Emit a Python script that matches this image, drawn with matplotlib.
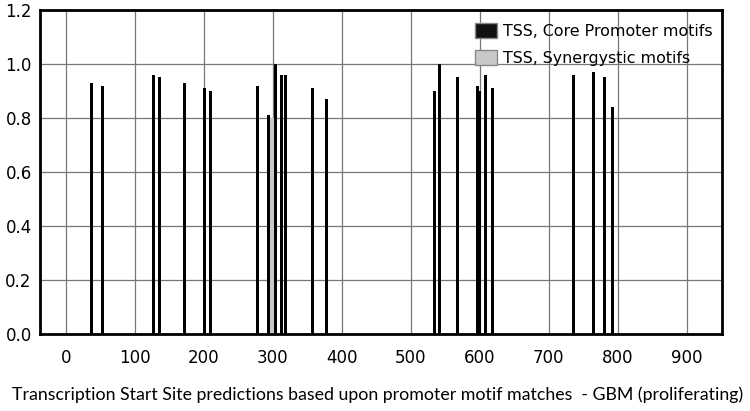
from matplotlib import pyplot
from matplotlib.patches import Patch

# TSS positions and scores
core_pos = [
    37, 52, 127, 135, 172, 200, 209, 277, 294, 304, 313, 318, 358, 378,
    534, 542, 567, 596, 600, 608, 618, 736, 765, 781, 793,
]
core_score = [
    0.93, 0.92, 0.96, 0.95, 0.93, 0.91, 0.90, 0.92, 0.81, 1.00, 0.96, 0.96, 0.91, 0.87,
    0.90, 1.00, 0.95, 0.92, 0.90, 0.96, 0.91, 0.96, 0.97, 0.95, 0.84,
]
syn_pos = [299]
syn_score = [0.80]

x_ticks = [0, 100, 200, 300, 400, 500, 600, 700, 800, 900]
y_ticks = [0.0, 0.2, 0.4, 0.6, 0.8, 1.0, 1.2]

fig = pyplot.figure(
    figsize=(
        7.5, 4.11
    ),
    dpi=100,
)
ax = fig.add_axes([0.0533, 0.187, 0.91, 0.789])
ax.bar(
    syn_pos,
    syn_score,
    width=6,
    color="#c8c8c8",
    zorder=2,
)
ax.bar(
    core_pos,
    core_score,
    width=4.4,
    color="#000000",
    zorder=3,
)
ax.set_xlim(
    -38,
    952,
)
ax.set_ylim(
    0,
    1.2,
)
ax.set_xticks(x_ticks)
ax.set_yticks(y_ticks)
ax.set_yticklabels([f"{t:.1f}" for t in y_ticks])
ax.grid(
    True,
    color="#777777",
    linewidth=0.9,
    zorder=1,
)
ax.set_axisbelow(True)
ax.tick_params(
    length=0,
    labelsize=12,
    pad=6,
)
ax.tick_params(axis="x", pad=11)
for spine in ax.spines.values():
    spine.set_linewidth(2)
ax.set_xlabel(
    "Transcription Start Site predictions based upon promoter motif matches  - GBM (proliferating)",
    fontsize=12.75,
    family="Lato",
    labelpad=14,
)
ax.xaxis.label.set_x(0.494)
handles = [
    Patch(facecolor="#111111", edgecolor="#888888", label="TSS, Core Promoter motifs"),
    Patch(facecolor="#c8c8c8", edgecolor="#888888", label="TSS, Synergystic motifs"),
]
ax.legend(
    handles=handles,
    loc="upper left",
    bbox_to_anchor=(0.628, 0.98),
    frameon=False,
    fontsize=11.4,
    handlelength=1.4,
    handleheight=1.1,
    handletextpad=0.4,
    labelspacing=0.7,
    borderaxespad=0,
)
pyplot.savefig(
    "out.png"
)
